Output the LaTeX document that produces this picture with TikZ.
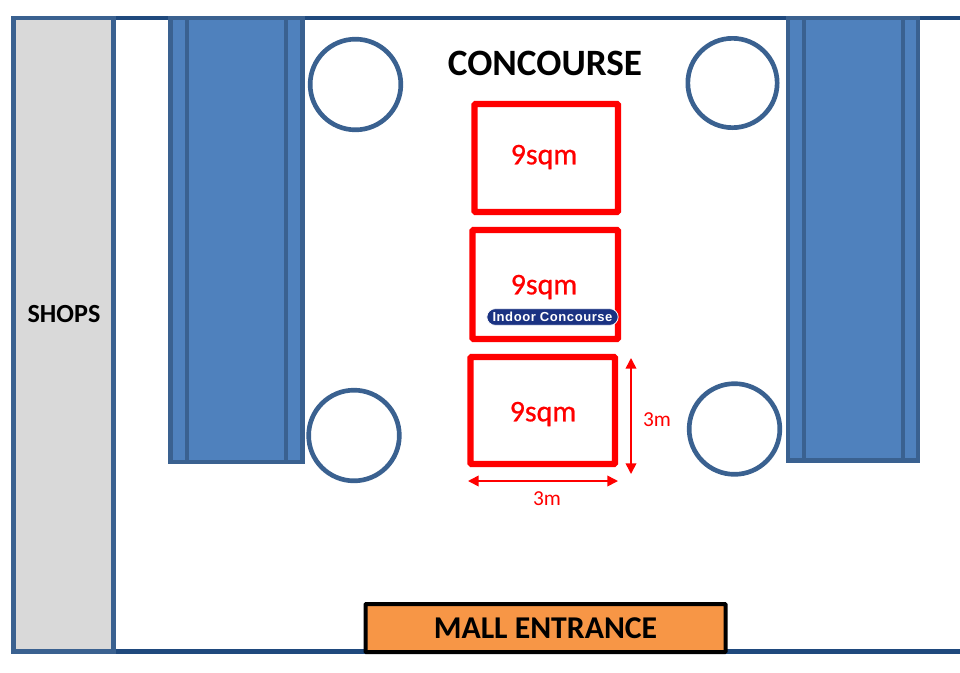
\documentclass[tikz,border=0pt]{standalone}
\usepackage{fontspec}
\setmainfont{Carlito}
\newfontfamily\medfont[FakeBold=0.7]{Carlito}
\newfontfamily\badgefont[LetterSpace=4]{Liberation Sans}
\definecolor{wallblue}{HTML}{3A6190}
\definecolor{lineblue}{HTML}{1F497D}
\definecolor{fillblue}{HTML}{4F81BD}
\definecolor{shopgrey}{HTML}{D9D9D9}
\definecolor{entrance}{HTML}{F79646}
\definecolor{badgeblue}{HTML}{1A3282}
\definecolor{redline}{HTML}{FF0000}
\usetikzlibrary{arrows.meta,shapes.misc}
\tikzset{
  x=0.75pt,y=-0.75pt,
  wall/.style={draw=lineblue,line width=3.3pt},
  shopbox/.style={draw=wallblue,fill=shopgrey,line width=3.3pt},
  pillar/.style={draw=wallblue,fill=fillblue,line width=3.3pt},
  divider/.style={draw=wallblue,line width=3.3pt},
  ring/.style={circle,draw=wallblue,line width=3.5pt,inner sep=0pt,fill=white},
  booth/.style={draw=redline,line width=4.6pt,rounded corners=0.8pt,fill=white},
  boothlabel/.style={text=redline,font=\medfont\fontsize{22.5}{26}\selectfont},
  dimline/.style={draw=redline,line width=1.2pt,{Triangle[length=8pt,width=8pt]}-{Triangle[length=8pt,width=8pt]}},
  dimlabel/.style={text=redline,font=\fontsize{16}{18}\selectfont,inner sep=0pt},
}
\begin{document}
\begin{tikzpicture}
\useasboundingbox (0,0) rectangle (960,672);
% outer walls
\coordinate (topS) at (13,18);
\coordinate (topE) at (960,18);
\coordinate (botS) at (114,651.5);
\coordinate (botE) at (960,651.5);
\draw[wall] (topS) -- (topE);
\draw[wall] (botS) -- (botE);
% shops
\draw[shopbox] (13.5,18) rectangle (113.5,651.5);
\node[font=\bfseries\fontsize{19.6}{22}\selectfont] (shopsT) at (64,314) {SHOPS};
% left pillars block
\draw[pillar] (170.5,18) rectangle (302.5,462);
\draw[divider] (187,18) -- (187,462);
\draw[divider] (286,18) -- (286,462);
% right pillars block
\draw[pillar] (788,18) rectangle (918,460.5);
\draw[divider] (804,18) -- (804,460.5);
\draw[divider] (903,18) -- (903,460.5);
% rings
\node[ring,minimum size=68pt] (c1) at (355.5,84.5) {};
\node[ring,minimum size=68pt] (c2) at (354,435.5) {};
\node[ring,minimum size=67pt] (c3) at (732.5,83) {};
\node[ring,minimum size=68pt] (c4) at (734.5,429) {};
% title
\node[font=\bfseries\fontsize{27.9}{30}\selectfont] (title) at (545,63) {CONCOURSE};
% booths
\draw[booth] (474.5,104) rectangle (618,212);
\draw[booth] (472.5,230) rectangle (618,339);
\draw[booth] (470.5,357) rectangle (615,464);
\node[boothlabel] (b1) at (544,157) {9sqm};
\node[boothlabel] (b2) at (544,287) {9sqm};
\node[boothlabel] (b3) at (543,414) {9sqm};
% badge
\node[draw=white,line width=0.6pt,fill=badgeblue,text=white,rounded rectangle,inner xsep=0pt,inner ysep=0pt,minimum width=98.5pt,minimum height=12.5pt,font=\badgefont\bfseries\fontsize{9.8}{10}\selectfont] (badge) at (552.5,317) {Indoor Concourse};
% dims
\coordinate (va) at (631,358);
\coordinate (vb) at (631,474);
\coordinate (ha) at (468,481);
\coordinate (hb) at (618,481);
\draw[dimline] (va) -- (vb);
\draw[dimline] (ha) -- (hb);
\node[dimlabel] (d1) at (657,420) {3m};
\node[dimlabel] (d2) at (547,499) {3m};
% entrance
\node[draw=black,fill=entrance,line width=3pt,rounded corners=0.5pt,minimum width=270pt,minimum height=36pt,inner sep=0pt,font=\bfseries\fontsize{23.8}{26}\selectfont] (door) at (545.5,628) {MALL ENTRANCE};
\end{tikzpicture}
\end{document}
